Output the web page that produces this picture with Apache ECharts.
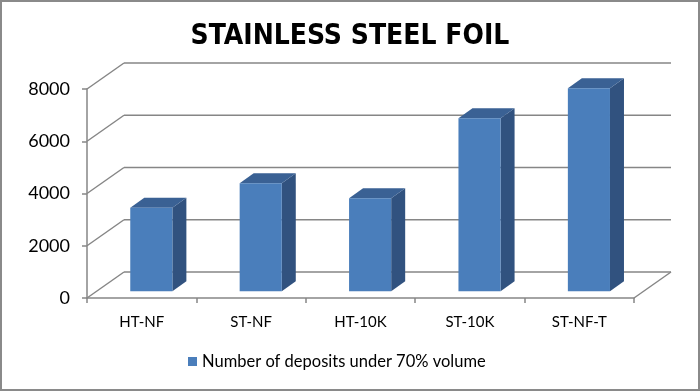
<!DOCTYPE html>
<html><head><meta charset="utf-8">
<script src="https://cdn.jsdelivr.net/npm/echarts@6/dist/echarts.min.js"></script>
<style>html,body{margin:0;padding:0;background:#fff}#c{width:700px;height:391px}</style>
</head><body><div id="c"></div>
<script>
var categories = ['HT-NF', 'ST-NF', 'HT-10K', 'ST-10K', 'ST-NF-T'];
var deposits = [3200, 4130, 3560, 6620, 7770];
var yTicks = [0, 2000, 4000, 6000, 8000];
var seriesName = 'Number of deposits under 70% volume';

var DX = 37, DY = 26;           // wall depth
var BAR_OFF = 0.26;             // bar front position within depth
var BAR_DX = 14, BAR_DY = 10;   // bar depth
var gridColor = '#868686';

var chart = echarts.init(document.getElementById('c'));
chart.setOption({
  animation: false,
  title: {
    text: 'STAINLESS STEEL FOIL', left: 'center', top: 18,
    textStyle: {fontFamily: "'DejaVu Sans Condensed', Lato, sans-serif", fontWeight: 'bold', fontSize: 28, color: '#000'}
  },
  legend: {
    data: [seriesName], left: 183, top: 348, icon: 'rect', itemWidth: 9, itemHeight: 9, itemGap: 4,
    textStyle: {fontFamily: 'Lato', fontSize: 16.5, color: '#000'}
  },
  graphic: [{type: 'rect', shape: {x: 1, y: 1, width: 698, height: 389},
    style: {fill: 'none', stroke: '#8a8a8a', lineWidth: 2}, silent: true}],
  grid: {left: 87, right: 66, top: 89, bottom: 93},
  xAxis: {
    type: 'category', data: categories,
    axisLine: {lineStyle: {color: gridColor, width: 1.5}},
    axisTick: {show: true, length: 5, lineStyle: {color: gridColor, width: 1.5}},
    axisLabel: {margin: 17, fontFamily: 'Lato', fontSize: 15, color: '#000'}
  },
  yAxis: {
    type: 'value', min: 0, max: 8000, interval: 2000,
    axisLine: {show: true, lineStyle: {color: gridColor, width: 1.5}},
    axisTick: {show: true, length: 5, lineStyle: {color: gridColor, width: 1.5}},
    splitLine: {show: false},
    axisLabel: {margin: 17, fontFamily: 'Lato', fontSize: 18, color: '#000',
      formatter: function (v) { return String(v); }}
  },
  series: [{
    type: 'custom', name: 'walls', silent: true, z: 1,
    data: yTicks.map(function (v) { return [0, v]; }),
    renderItem: function (params, api) {
      var cs = params.coordSys;
      var y = api.coord([0, api.value(1)])[1];
      var x0 = cs.x, x1 = cs.x + cs.width;
      var ls = {stroke: gridColor, lineWidth: 1.5, fill: null};
      var ch = [
        {type: 'line', shape: {x1: x0, y1: y, x2: x0 + DX, y2: y - DY}, style: ls},
        {type: 'line', shape: {x1: x0 + DX, y1: y - DY, x2: x1 + DX, y2: y - DY}, style: ls}
      ];
      if (api.value(1) === 0) {
        ch.push({type: 'line', shape: {x1: x1, y1: y, x2: x1 + DX, y2: y - DY}, style: ls});
      }
      return {type: 'group', children: ch};
    }
  }, {
    type: 'custom', name: seriesName, z: 2,
    itemStyle: {color: '#4a7ebb'},
    data: deposits.map(function (v, i) { return [i, v]; }),
    renderItem: function (params, api) {
      var i = api.value(0), v = api.value(1);
      var base = api.coord([i, 0]), top = api.coord([i, v]);
      var w = api.size([1, 0])[0] * 0.385;
      var ox = DX * BAR_OFF, oy = DY * BAR_OFF;
      var l = base[0] - w / 2 + ox, r = base[0] + w / 2 + ox;
      var b = base[1] - oy, t = top[1] - oy;
      return {type: 'group', children: [
        {type: 'polygon', shape: {points: [[r, b], [r + BAR_DX, b - BAR_DY], [r + BAR_DX, t - BAR_DY], [r, t]]},
          style: {fill: '#31527f'}},
        {type: 'polygon', shape: {points: [[l, t], [r, t], [r + BAR_DX, t - BAR_DY], [l + BAR_DX, t - BAR_DY]]},
          style: {fill: '#3a6194'}},
        {type: 'rect', shape: {x: l, y: t, width: r - l, height: b - t},
          style: {fill: '#4a7ebb'}}
      ]};
    }
  }]
});
</script></body></html>
